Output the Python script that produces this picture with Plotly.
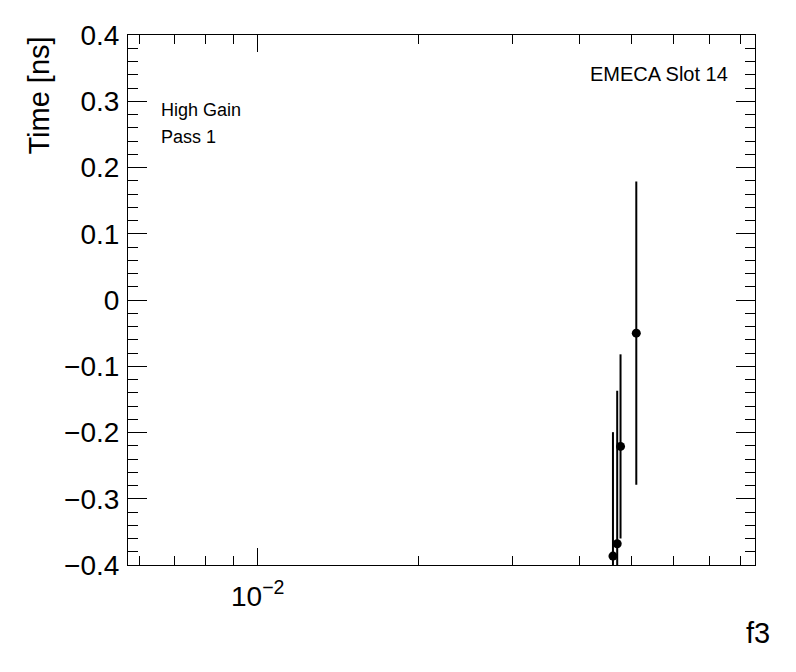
import plotly.graph_objects as go

# Data
f3 = [0.04617, 0.04702, 0.04770, 0.05105]
time_ns = [-0.3865, -0.368, -0.221, -0.050]
time_err = [0.187, 0.231, 0.139, 0.229]

x_major_vals = [0.01]
x_major_text = ["10<sup>\u22122</sup>"]
x_minor_vals = [0.006, 0.007, 0.008, 0.009, 0.02, 0.03, 0.04, 0.05, 0.06, 0.07, 0.08]

FONT = "Liberation Sans, Arial, Helvetica, sans-serif"

fig = go.Figure()
fig.add_trace(go.Scatter(
    x=f3, y=time_ns, mode="markers",
    marker=dict(color="black", size=9, symbol="circle"),
    error_y=dict(type="data", array=time_err, visible=True,
                 color="black", thickness=2, width=0),
    showlegend=False, cliponaxis=True,
))

# page offset of the plot div (body margin) compensated in the margins
OFF = 8
W, H = 796, 672
PL, PR, PT, PB = 127.5, 755, 33, 565   # target plot-area pixels in the window
L = PL - OFF
T = PT - OFF
pw, ph = PR - PL, PB - PT
R = W - L - pw
B = H - T - ph

def px(x):
    return (x - PL) / pw

def py(y):
    return (PB - y) / ph

fig.update_layout(
    width=W, height=H,
    margin=dict(l=L, r=R, t=T, b=B, pad=0),
    paper_bgcolor="white", plot_bgcolor="white",
    font=dict(family=FONT, color="black"),
    xaxis=dict(
        type="log", range=[-2.2426, -1.0700],
        showgrid=False, zeroline=False,
        showline=True, linecolor="black", linewidth=1, mirror="allticks",
        ticks="inside", ticklen=17, tickwidth=1, tickcolor="black",
        tickmode="array", tickvals=x_major_vals, ticktext=x_major_text,
        tickfont=dict(size=28, family=FONT), ticklabelstandoff=6,
        minor=dict(ticks="inside", ticklen=9, tickwidth=1, tickcolor="black",
                   tickmode="array", tickvals=x_minor_vals, showgrid=False),
    ),
    yaxis=dict(
        range=[-0.4, 0.4],
        showgrid=False, zeroline=False,
        showline=True, linecolor="black", linewidth=1, mirror="allticks",
        ticks="inside", ticklen=19, tickwidth=1, tickcolor="black",
        tickmode="linear", tick0=-0.4, dtick=0.1,
        tickfont=dict(size=28, family=FONT), ticklabelstandoff=2,
        minor=dict(ticks="inside", ticklen=10, tickwidth=1, tickcolor="black",
                   dtick=0.02, tick0=-0.4, showgrid=False),
    ),
    annotations=[
        dict(text="High Gain", x=px(159), y=py(108), xref="paper", yref="paper",
             xanchor="left", yanchor="middle", showarrow=False,
             font=dict(size=18, family=FONT)),
        dict(text="Pass 1", x=px(159), y=py(135.5), xref="paper", yref="paper",
             xanchor="left", yanchor="middle", showarrow=False,
             font=dict(size=18, family=FONT)),
        dict(text="EMECA Slot 14", x=px(730), y=py(72), xref="paper", yref="paper",
             xanchor="right", yanchor="middle", showarrow=False,
             font=dict(size=20, family=FONT)),
        dict(text="Time [ns]", x=px(38), y=1.0, xref="paper", yref="paper",
             xanchor="center", yanchor="top", textangle=-90, showarrow=False,
             font=dict(size=29, family=FONT)),
        dict(text="f3", x=px(772), y=py(633), xref="paper", yref="paper",
             xanchor="right", yanchor="middle", showarrow=False,
             font=dict(size=29, family=FONT)),
    ],
)

fig.write_html("out.html")
